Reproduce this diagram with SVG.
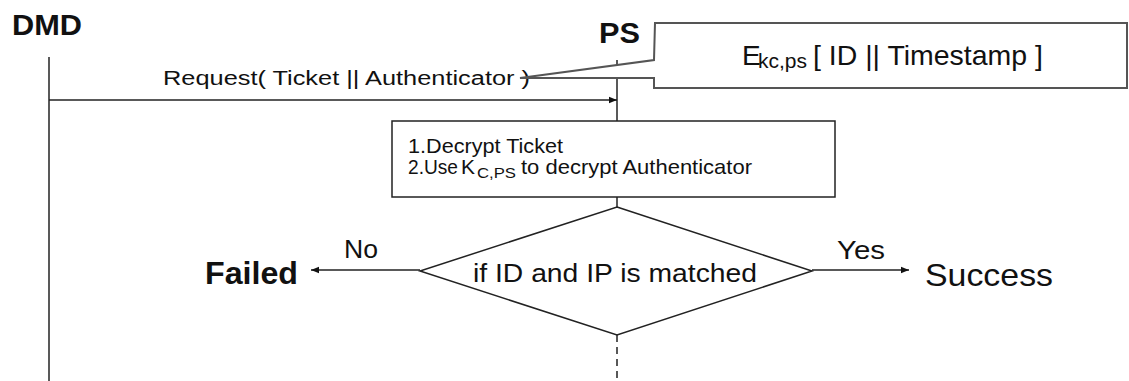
<svg xmlns="http://www.w3.org/2000/svg" width="1129" height="381" viewBox="0 0 1129 381">
  <style>
    .t { font-family: "Liberation Sans", Arial, sans-serif; fill: #111; }
    .b { font-weight: bold; }
    .ln { stroke: #222; stroke-width: 1.5; fill: none; }
    .call { stroke: #555; stroke-width: 2; fill: #fff; }
    .box { stroke: #222; stroke-width: 1.5; fill: #fff; }
  </style>
  <defs>
    <marker id="arrow" markerWidth="9" markerHeight="8" refX="8" refY="4" orient="auto" markerUnits="userSpaceOnUse">
      <path d="M0,0.8 L8,4 L0,7.2 Z" fill="#111"/>
    </marker>
  </defs>

  <rect width="1129" height="381" fill="#fff"/>

  <!-- participants -->
  <g id="dmd">
    <text class="t b" x="12" y="35" font-size="29" textLength="70" lengthAdjust="spacingAndGlyphs">DMD</text>
  </g>
  <g id="ps">
    <text class="t b" x="599" y="43" font-size="29" textLength="41" lengthAdjust="spacingAndGlyphs">PS</text>
  </g>

  <!-- connectors: lifelines, message and decision branches -->
  <g id="connectors">
    <line class="ln" x1="49" y1="57" x2="49" y2="381"/>
    <line class="ln" x1="617" y1="60" x2="617" y2="121"/>
    <line class="ln" x1="49" y1="100" x2="617" y2="100" marker-end="url(#arrow)"/>
    <line class="ln" x1="617" y1="197" x2="617" y2="207"/>
    <line class="ln" x1="617" y1="335" x2="617" y2="381" stroke-dasharray="7,5"/>
    <line class="ln" x1="420" y1="270" x2="311" y2="270" marker-end="url(#arrow)"/>
    <line class="ln" x1="812" y1="270" x2="909" y2="270" marker-end="url(#arrow)"/>
  </g>

  <g id="request-label">
    <text class="t" x="163" y="85" font-size="20" textLength="367" lengthAdjust="spacingAndGlyphs">Request( Ticket || Authenticator )</text>
  </g>

  <!-- callout with the authenticator contents -->
  <g id="authenticator-note">
    <path class="call" d="M655,23 L1127,23 L1127,88 L654,88 L654,78 L520,78 L654,60 Z"/>
    <text class="t" x="742" y="65" font-size="28">E</text>
    <text class="t" x="758" y="68" font-size="20" textLength="49" lengthAdjust="spacingAndGlyphs">kc,ps</text>
    <text class="t" x="813" y="65" font-size="28" textLength="230" lengthAdjust="spacingAndGlyphs">[ ID || Timestamp ]</text>
  </g>

  <!-- processing step on PS -->
  <g id="decrypt-step">
    <rect class="box" x="392" y="121" width="443" height="76"/>
    <text class="t" x="408" y="153" font-size="21" textLength="155" lengthAdjust="spacingAndGlyphs">1.Decrypt Ticket</text>
    <text class="t" x="408" y="174" font-size="21" textLength="50" lengthAdjust="spacingAndGlyphs">2.Use</text>
    <text class="t" x="461" y="174" font-size="21">K</text>
    <text class="t" x="477" y="178" font-size="15" textLength="39" lengthAdjust="spacingAndGlyphs">C,PS</text>
    <text class="t" x="521" y="174" font-size="21" textLength="231" lengthAdjust="spacingAndGlyphs">to decrypt Authenticator</text>
  </g>

  <!-- decision -->
  <g id="match-check">
    <path class="box" d="M617,207 L812,271 L617,335 L420,271 Z"/>
    <text class="t" x="473" y="282" font-size="26" textLength="284" lengthAdjust="spacingAndGlyphs">if ID and IP is matched</text>
  </g>

  <g id="no-label">
    <text class="t" x="344" y="258" font-size="26" textLength="34" lengthAdjust="spacingAndGlyphs">No</text>
  </g>
  <g id="yes-label">
    <text class="t" x="837" y="259" font-size="26" textLength="48" lengthAdjust="spacingAndGlyphs">Yes</text>
  </g>

  <g id="failed">
    <text class="t b" x="205" y="284" font-size="32" textLength="93" lengthAdjust="spacingAndGlyphs">Failed</text>
  </g>
  <g id="success">
    <text class="t" x="925" y="286" font-size="32" textLength="128" lengthAdjust="spacingAndGlyphs">Success</text>
  </g>
</svg>
